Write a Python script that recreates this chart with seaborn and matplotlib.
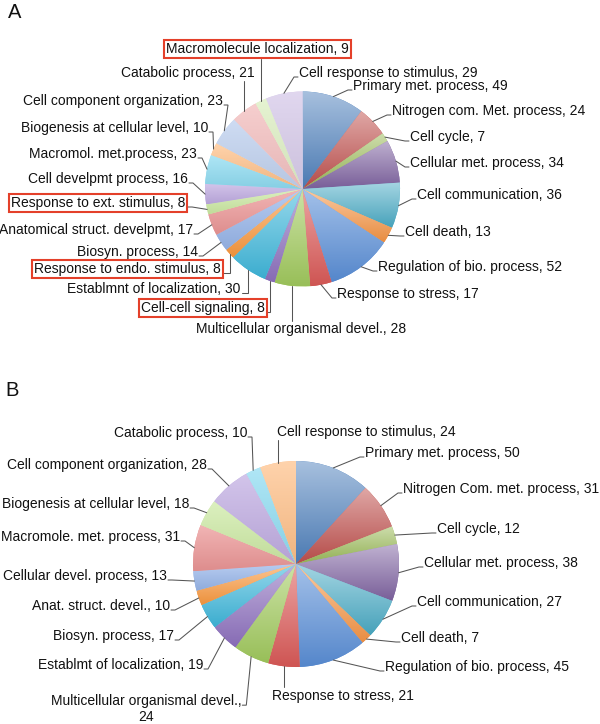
import numpy as np
import matplotlib
matplotlib.use("Agg")
import matplotlib.pyplot as plt
import seaborn as sns
from matplotlib.colors import to_rgb

# ---------------- data ----------------
labels_a = ["Primary met. process", "Nitrogen com. Met. process", "Cell cycle",
            "Cellular met. process", "Cell communication", "Cell death",
            "Regulation of bio. process", "Response to stress",
            "Multicellular organismal devel.", "Cell-cell signaling",
            "Establmnt of localization", "Response to endo. stimulus",
            "Biosyn. process", "Anatomical struct. develpmt",
            "Response to ext. stimulus", "Cell develpmt process",
            "Macromol. met.process", "Biogenesis at cellular level",
            "Cell component organization", "Catabolic process",
            "Macromolecule localization", "Cell response to stimulus"]
values_a = [49, 24, 7, 34, 36, 13, 52, 17, 28, 8, 30, 8, 14, 17, 8, 16, 23, 10, 23, 21, 9, 29]
highlight_a = ["Cell-cell signaling", "Response to endo. stimulus",
               "Response to ext. stimulus", "Macromolecule localization"]

labels_b = ["Primary met. process", "Nitrogen Com. met. process", "Cell cycle",
            "Cellular met. process", "Cell communication", "Cell death",
            "Regulation of bio. process", "Response to stress",
            "Multicellular organismal devel.", "Establmt of localization",
            "Biosyn. process", "Anat. struct. devel.", "Cellular devel. process",
            "Macromole. met. process", "Biogenesis at cellular level",
            "Cell component organization", "Catabolic process",
            "Cell response to stimulus"]
values_b = [50, 31, 12, 38, 27, 7, 45, 21, 24, 19, 17, 10, 13, 31, 18, 28, 10, 24]

panel_titles = ["A", "B"]

# ---------------- style ----------------
cycle_colors = [
    ["#4f81bd", "#c0504d", "#9bbb59", "#8064a2", "#4bacc6", "#f79646"],
    ["#5a8fd8", "#dc5a58", "#a2cb5e", "#8f72c0", "#3fb8dc", "#fb9a40"],
    ["#98b6ea", "#ec9696", "#cdeaa4", "#c0ace2", "#8edcf2", "#ffc088"],
    ["#c2d3f0", "#f4c2c2", "#dff0c6", "#d9cdeb", "#c6ecf6", "#ffdcbc"],
]
cycle_light = [0.5, 0.45, 0.3, 0.2]

W, H = 600, 724
sns.set_theme(style="white")
plt.rcParams["font.family"] = ["Liberation Sans", "DejaVu Sans"]

fig = plt.figure(figsize=(6, 7.24), dpi=100)
ax = fig.add_axes([0, 0, 1, 1])


def Y(py):
    return H - py


def mix(c, t, f):
    return np.array([(1 - f) * a + f * b for a, b in zip(c, t)])


def colors_for(n):
    cols, lights = [], []
    for i in range(n):
        cols.append(cycle_colors[i // 6][i % 6])
        lights.append(cycle_light[i // 6])
    return cols, lights


def draw_pie(values, center, radius):
    cols, lights = colors_for(len(values))
    c = (center[0], Y(center[1]))
    wedges, _ = ax.pie(values, startangle=90, counterclock=False, center=c,
                       radius=radius, colors=cols,
                       wedgeprops=dict(linewidth=0))
    for w, col, f in zip(wedges, cols, lights):
        base = np.array(to_rgb(col))
        top = mix(base, (1, 1, 1), f)
        bot = mix(base, (0, 0, 0), 0.06)
        th = np.radians(np.linspace(w.theta1, w.theta2, 80))
        xs = np.concatenate([[c[0]], c[0] + radius * np.cos(th)])
        ys = np.concatenate([[c[1]], c[1] + radius * np.sin(th)])
        t = np.linspace(0, 1, 128)[:, None]
        img = ((1 - t) * bot + t * top)[:, None, :]
        im = ax.imshow(img, extent=(xs.min(), xs.max(), ys.min(), ys.max()),
                       origin="lower", aspect="auto", interpolation="bilinear",
                       zorder=w.get_zorder() + 0.1)
        im.set_clip_path(w)
    rims = []
    for w in wedges:
        m = np.radians((w.theta1 + w.theta2) / 2)
        rims.append((c[0] + radius * np.cos(m), c[1] + radius * np.sin(m)))
    return rims


# label layout (pixel coords): x, y, ha, leader mode, extra
layout_a = [
    (353, 86, "left", "h", 0), (392, 111, "left", "h", 0), (410, 137, "left", "h", 0),
    (410, 163, "left", "h", 0), (417, 195, "left", "h", 0), (405, 232, "left", "h", 0),
    (378, 267, "left", "h", 0), (337, 294, "left", "h", 0),
    (301, 329, "center", "v", -8), (265, 308, "right", "vh", 0),
    (240, 289, "right", "vh", 0), (221, 269, "right", "vh", 0),
    (198, 252, "right", "h", 0), (193, 230, "right", "h", 0),
    (185, 203, "right", "h", 0), (188, 179, "right", "h", 0),
    (197, 154, "right", "h", 0), (208, 128, "right", "h", 0),
    (223, 101, "right", "h", 0), (255, 73, "right", "v", 8),
    (349, 49, "right", "v", 10), (299, 73, "left", "h", 0),
]
layout_b = [
    (365, 453, "left", "h", 0), (403, 489, "left", "h", 0), (437, 529, "left", "h", 0),
    (424, 563, "left", "h", 0), (417, 602, "left", "h", 0), (401, 638, "left", "h", 0),
    (385, 667, "left", "h", 0), (343, 696, "center", "v", -9),
    (146, 709, "center", "h", 0), (203, 665, "right", "h", 0),
    (174, 636, "right", "h", 0), (170, 606, "right", "h", 0),
    (167, 576, "right", "h", 0), (180, 537, "right", "h", 0),
    (189, 504, "right", "h", 0), (207, 465, "right", "h", 0),
    (247, 433, "right", "h", 0), (277, 432, "left", "v", 8),
]

rims_a = draw_pie(values_a, (302.5, 189), 97.5)
rims_b = draw_pie(values_b, (296, 564), 103)

ax.set_xlim(0, W)
ax.set_ylim(0, H)
ax.set_aspect("auto")
ax.set_autoscale_on(False)
ax.axis("off")


def add_texts(labels, values, layout, highlight):
    out = []
    for lab, val, (x, y, ha, mode, extra) in zip(labels, values, layout):
        text = f"{lab}, {val}"
        if lab == "Multicellular organismal devel." and val == 24:
            text = f"{lab},\n{val}"
        boxed = lab in highlight
        kw = {}
        if boxed:
            kw["bbox"] = dict(boxstyle="square,pad=0.15", facecolor="white",
                              edgecolor="#e4402a", linewidth=1.5)
        t = ax.text(x, Y(y), text, ha=ha, va="center", fontsize=10,
                    color="#111111", zorder=5, linespacing=1.15, **kw)
        out.append((t, boxed))
    return out


texts_a = add_texts(labels_a, values_a, layout_a, highlight_a)
texts_b = add_texts(labels_b, values_b, layout_b, [])

fig.canvas.draw()
renderer = fig.canvas.get_renderer()
inv = ax.transData.inverted()


def add_leaders(texts, layout, rims):
    for (t, boxed), (x, y, ha, mode, extra), rim in zip(texts, layout, rims):
        bb = t.get_window_extent(renderer).transformed(inv)
        if boxed:
            pb = t.get_bbox_patch().get_window_extent(renderer).transformed(inv)
        else:
            pb = bb
        top_line_y = bb.y1 - 11
        rx, ry = rim
        if mode == "h":
            s = 1 if rx > (bb.x0 + bb.x1) / 2 else -1
            ex = pb.x1 if s > 0 else pb.x0
            pts = [(ex + 1 * s, top_line_y), (ex + 5 * s, top_line_y), (rx, ry)]
        elif mode == "vh":
            ex = bb.x1 + 2
            pts = [(ex, top_line_y), (rx, top_line_y), (rx, ry)]
        else:
            pts = [(rx, Y(y + extra)), (rx, ry)]
        px, py = zip(*pts)
        ax.plot(px, py, color="#555555", lw=0.75, zorder=4, solid_joinstyle="miter")


add_leaders(texts_a, layout_a, rims_a)
add_leaders(texts_b, layout_b, rims_b)

ax.text(8, Y(12), panel_titles[0], ha="left", va="center", fontsize=14.5, color="#111111")
ax.text(5, Y(390), panel_titles[1], ha="left", va="center", fontsize=14.5, color="#111111")

fig.savefig("out.png", dpi=100, facecolor="white")
